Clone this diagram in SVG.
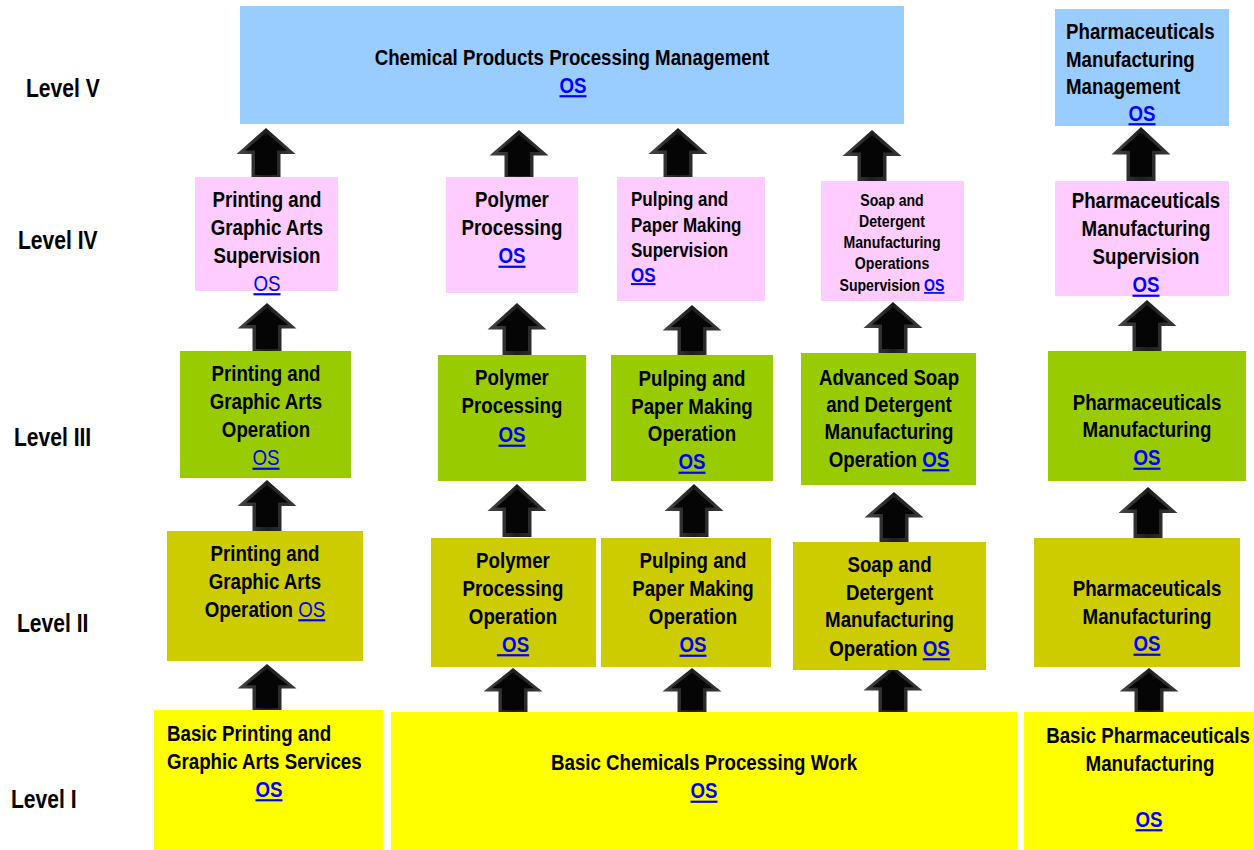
<svg xmlns="http://www.w3.org/2000/svg" width="1254" height="850" viewBox="0 0 1254 850">
<style>
text{font-family:"Liberation Sans Narrow","Arial Narrow","Liberation Sans",sans-serif;font-weight:bold;fill:#000;font-size:22px;transform-box:fill-box;transform-origin:0 50%;transform:scaleX(0.85)}
.c{text-anchor:middle;transform-origin:50% 50%}
.s20{font-size:20px}
.s17{font-size:17px;transform:scaleX(0.83)}
.lv{font-size:26px;transform:scaleX(0.81)}
.os{fill:#0000FF;text-decoration:underline}
.osr{fill:#0000FF;text-decoration:underline;font-weight:normal}
.blue{fill:#99CCFF}
.pink{fill:#FFCCFF}
.green{fill:#99CC00}
.olive{fill:#CCCC00}
.yellow{fill:#FFFF00}
</style>
<defs>
<linearGradient id="ag" x1="0" y1="0" x2="1" y2="0">
<stop offset="0" stop-color="#484848"/>
<stop offset="0.5" stop-color="#1e1e1e"/>
<stop offset="1" stop-color="#3a3a3a"/>
</linearGradient>
<g id="arrow">
<path d="M0,0 L29.5,26 L14.5,26 L14.5,51 L-14.5,51 L-14.5,26 L-29.5,26 Z" fill="url(#ag)"/>
<path d="M0,5 L21,22.5 L11,22.5 L11,47 L-11,47 L-11,22.5 L-21,22.5 Z" fill="#050505"/>
</g>
</defs>
<rect width="1254" height="850" fill="#FFFFFF"/>

<g id="levels">
<text class="lv" x="26" y="97">Level V</text>
<text class="lv" x="18" y="249">Level IV</text>
<text class="lv" x="14" y="446">Level III</text>
<text class="lv" x="17" y="632">Level II</text>
<text class="lv" x="11" y="808">Level I</text>
</g>

<g id="connectors">
<use href="#arrow" transform="translate(266,128)"/>
<use href="#arrow" transform="translate(519,130) scale(1,0.98)"/>
<use href="#arrow" transform="translate(678,128)"/>
<use href="#arrow" transform="translate(872,130)"/>
<use href="#arrow" transform="translate(1141,127) scale(1,1.06)"/>

<use href="#arrow" transform="translate(267,303) scale(1,0.98)"/>
<use href="#arrow" transform="translate(517,303) scale(1,1.02)"/>
<use href="#arrow" transform="translate(692,305) scale(1,0.98)"/>
<use href="#arrow" transform="translate(893,302)"/>
<use href="#arrow" transform="translate(1147,300)"/>

<use href="#arrow" transform="translate(267,480)"/>
<use href="#arrow" transform="translate(517,484) scale(1,1.04)"/>
<use href="#arrow" transform="translate(694,484) scale(1,1.04)"/>
<use href="#arrow" transform="translate(894,492) scale(1,0.98)"/>
<use href="#arrow" transform="translate(1148,487)"/>

<use href="#arrow" transform="translate(267,664) scale(1,0.94)"/>
<use href="#arrow" transform="translate(513,668) scale(1,0.9)"/>
<use href="#arrow" transform="translate(692,668) scale(1,0.9)"/>
<use href="#arrow" transform="translate(893,666) scale(1,0.94)"/>
<use href="#arrow" transform="translate(1149,668) scale(1,0.9)"/>
</g>

<g id="n-chem-mgmt">
<rect class="blue" x="240" y="6" width="664" height="118"/>
<text class="c" x="572" y="65">Chemical Products Processing Management</text>
<text class="c os" x="573" y="93">OS</text>
</g>
<g id="n-pharma-mgmt">
<rect class="blue" x="1055" y="9" width="174" height="117"/>
<text x="1066" y="39">Pharmaceuticals</text>
<text x="1066" y="67">Manufacturing</text>
<text x="1066" y="94">Management</text>
<text class="c os" x="1142" y="121">OS</text>
</g>

<g id="n-print-4">
<rect class="pink" x="195" y="177" width="143" height="114"/>
<text class="c" x="267" y="207">Printing and</text>
<text class="c" x="267" y="235">Graphic Arts</text>
<text class="c" x="267" y="263">Supervision</text>
<text class="c osr" x="267" y="291">OS</text>
</g>
<g id="n-poly-4">
<rect class="pink" x="446" y="177" width="132" height="116"/>
<text class="c" x="512" y="207.5">Polymer</text>
<text class="c" x="512" y="235.5">Processing</text>
<text class="c os" x="512" y="263.5">OS</text>
</g>
<g id="n-pulp-4">
<rect class="pink" x="617" y="177" width="148" height="124"/>
<text class="s20" x="631" y="206">Pulping and</text>
<text class="s20" x="631" y="232">Paper Making</text>
<text class="s20" x="631" y="257">Supervision</text>
<text class="s20 os" x="631" y="282">OS</text>
</g>
<g id="n-soap-4">
<rect class="pink" x="821" y="181" width="143" height="120"/>
<text class="c s17" x="892" y="206">Soap and</text>
<text class="c s17" x="892" y="227">Detergent</text>
<text class="c s17" x="892" y="248">Manufacturing</text>
<text class="c s17" x="892" y="269">Operations</text>
<text class="c s17" x="892" y="291">Supervision <tspan class="os">OS</tspan></text>
</g>
<g id="n-pharma-4">
<rect class="pink" x="1055" y="181" width="174" height="115"/>
<text class="c" x="1146" y="208.5">Pharmaceuticals</text>
<text class="c" x="1146" y="236.5">Manufacturing</text>
<text class="c" x="1146" y="264.5">Supervision</text>
<text class="c os" x="1146" y="292.5">OS</text>
</g>

<g id="n-print-3">
<rect class="green" x="180" y="351" width="171" height="127"/>
<text class="c" x="266" y="381.5">Printing and</text>
<text class="c" x="266" y="409.5">Graphic Arts</text>
<text class="c" x="266" y="437.5">Operation</text>
<text class="c osr" x="266" y="465.5">OS</text>
</g>
<g id="n-poly-3">
<rect class="green" x="438" y="355" width="148" height="126"/>
<text class="c" x="512" y="385.5">Polymer</text>
<text class="c" x="512" y="413.5">Processing</text>
<text class="c os" x="512" y="442.5">OS</text>
</g>
<g id="n-pulp-3">
<rect class="green" x="611" y="355" width="162" height="126"/>
<text class="c" x="692" y="386.5">Pulping and</text>
<text class="c" x="692" y="414.5">Paper Making</text>
<text class="c" x="692" y="441.5">Operation</text>
<text class="c os" x="692" y="469.5">OS</text>
</g>
<g id="n-soap-3">
<rect class="green" x="801" y="353" width="175" height="132"/>
<text class="c" x="889" y="385">Advanced Soap</text>
<text class="c" x="889" y="412">and Detergent</text>
<text class="c" x="889" y="439">Manufacturing</text>
<text class="c" x="889" y="467">Operation <tspan class="os">OS</tspan></text>
</g>
<g id="n-pharma-3">
<rect class="green" x="1048" y="351" width="198" height="130"/>
<text class="c" x="1147" y="410.5">Pharmaceuticals</text>
<text class="c" x="1147" y="437.5">Manufacturing</text>
<text class="c os" x="1147" y="465.5">OS</text>
</g>

<g id="n-print-2">
<rect class="olive" x="167" y="531" width="196" height="130"/>
<text class="c" x="265" y="561.5">Printing and</text>
<text class="c" x="265" y="589">Graphic Arts</text>
<text class="c" x="265" y="617">Operation <tspan class="osr">OS</tspan></text>
</g>
<g id="n-poly-2">
<rect class="olive" x="431" y="538" width="165" height="129"/>
<text class="c" x="513" y="568.5">Polymer</text>
<text class="c" x="513" y="596.5">Processing</text>
<text class="c" x="513" y="624">Operation</text>
<text class="c os" x="513" y="652" xml:space="preserve"> OS</text>
</g>
<g id="n-pulp-2">
<rect class="olive" x="601" y="538" width="170" height="129"/>
<text class="c" x="693" y="568.5">Pulping and</text>
<text class="c" x="693" y="596.5">Paper Making</text>
<text class="c" x="693" y="624.5">Operation</text>
<text class="c os" x="693" y="652.5">OS</text>
</g>
<g id="n-soap-2">
<rect class="olive" x="793" y="542" width="193" height="128"/>
<text class="c" x="889.5" y="572">Soap and</text>
<text class="c" x="889.5" y="600">Detergent</text>
<text class="c" x="889.5" y="627.5">Manufacturing</text>
<text class="c" x="889.5" y="656">Operation <tspan class="os">OS</tspan></text>
</g>
<g id="n-pharma-2">
<rect class="olive" x="1034" y="538" width="206" height="129"/>
<text class="c" x="1147" y="596.5">Pharmaceuticals</text>
<text class="c" x="1147" y="624.5">Manufacturing</text>
<text class="c os" x="1147" y="651.5">OS</text>
</g>

<g id="n-print-1">
<rect class="yellow" x="154" y="710" width="229" height="140"/>
<text x="167" y="741">Basic Printing and</text>
<text x="167" y="769">Graphic Arts Services</text>
<text class="c os" x="269" y="797">OS</text>
</g>
<g id="n-chem-1">
<rect class="yellow" x="391" y="712" width="626" height="138"/>
<text class="c" x="704" y="770.5">Basic Chemicals Processing Work</text>
<text class="c os" x="704" y="798.5">OS</text>
</g>
<g id="n-pharma-1">
<rect class="yellow" x="1024" y="712" width="230" height="138"/>
<text class="c" x="1148" y="743">Basic Pharmaceuticals</text>
<text class="c" x="1150" y="771">Manufacturing</text>
<text class="c os" x="1149" y="827">OS</text>
</g>
</svg>
